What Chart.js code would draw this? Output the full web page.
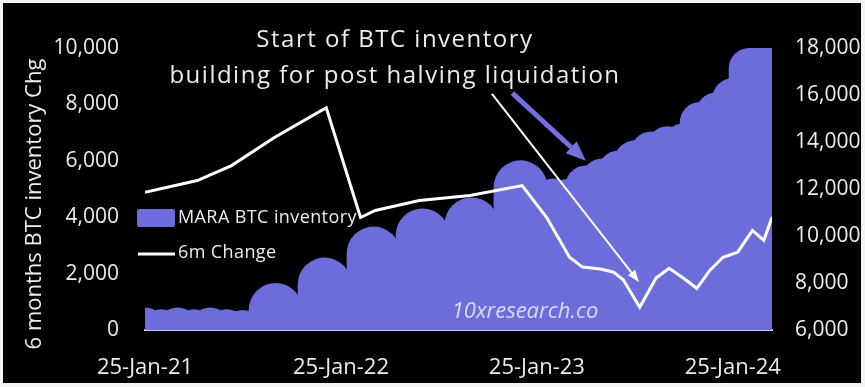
<!DOCTYPE html>
<html>
<head>
<meta charset="utf-8">
<script src="https://cdn.jsdelivr.net/npm/chart.js@4.4.1/dist/chart.umd.min.js"></script>
<style>
  html, body { margin: 0; padding: 0; background: #ffffff; }
  #wrap { width: 865px; height: 387px; }
</style>
</head>
<body>
<div id="wrap"><canvas id="chart" width="865" height="387"></canvas></div>
<script>
// x positions are months counted from 25-Jan-21
const tickMonths = [0, 12, 24, 36];
const tickLabels = ['25-Jan-21', '25-Jan-22', '25-Jan-23', '25-Jan-24'];

// MARA BTC inventory (BTC) - monthly readings
const inventoryMonths = [0, 1, 2, 3, 4, 5, 6, 25, 26, 27, 28, 29, 30, 31, 32, 33, 34, 35, 36, 37, 38];
const inventoryValues = [6960, 6880, 6960, 6880, 6960, 6880, 6850, 12450, 12450, 13000, 13300, 13640, 14070, 14450, 14670, 14800, 15700, 16120, 16720, 18000, 18300];

// MARA BTC inventory (BTC) - quarterly readings
const inventoryQMonths = [8, 11, 14, 17, 20, 23];
const inventoryQValues = [8000, 9080, 10400, 11170, 11640, 13220];

// 6 months change in BTC inventory
const changeMonths = [0, 3.2, 5.3, 7.9, 11.1, 13.2, 14.1, 16.8, 19.9, 23.1, 24.6, 26.0, 26.8, 27.9, 28.7, 29.3, 30.3, 31.3, 32.1, 32.9, 33.8, 34.6, 35.4, 36.3, 37.2, 37.9, 38.4];
const changeValues = [4880, 5300, 5830, 6820, 7880, 3990, 4240, 4590, 4770, 5120, 3990, 2580, 2230, 2160, 2050, 1770, 810, 1840, 2190, 1870, 1480, 2120, 2580, 2760, 3530, 3180, 4000];

const PURPLE = '#6c6cda';
const TEXT = '#ececec';
const FONT = "'Open Sans', sans-serif";

const pts = (xs, ys) => xs.map((x, i) => ({ x: x, y: ys[i] }));

function drawArrow(ctx, x1, y1, x2, y2, color, width, headLen, headW) {
  const a = Math.atan2(y2 - y1, x2 - x1);
  const bx = x2 - headLen * Math.cos(a), by = y2 - headLen * Math.sin(a);
  ctx.save();
  ctx.strokeStyle = color; ctx.lineWidth = width; ctx.lineCap = 'butt';
  ctx.beginPath(); ctx.moveTo(x1, y1); ctx.lineTo(bx, by); ctx.stroke();
  ctx.fillStyle = color;
  ctx.beginPath();
  ctx.moveTo(x2, y2);
  ctx.lineTo(bx + headW / 2 * Math.sin(a), by - headW / 2 * Math.cos(a));
  ctx.lineTo(bx - headW / 2 * Math.sin(a), by + headW / 2 * Math.cos(a));
  ctx.closePath(); ctx.fill();
  ctx.restore();
}

// black panel with a thin light frame
const panel = {
  id: 'panel',
  beforeDraw(chart) {
    const ctx = chart.ctx;
    ctx.save();
    ctx.fillStyle = '#f4f4f4';
    ctx.fillRect(0, 0, chart.width, chart.height);
    ctx.fillStyle = '#000000';
    ctx.fillRect(3, 3, chart.width - 7, chart.height - 7);
    ctx.restore();
  }
};

// headline, axis title, legend, arrows and watermark
const overlay = {
  id: 'overlay',
  afterDatasetsDraw(chart) {
    const ctx = chart.ctx;
    const xs = chart.scales.x, yL = chart.scales.yL, yR = chart.scales.yR;
    ctx.save();

    // watermark
    ctx.font = "italic 22px " + FONT;
    ctx.fillStyle = 'rgba(228,228,252,0.9)';
    ctx.textAlign = 'center'; ctx.textBaseline = 'middle';
    ctx.fillText('10xresearch.co', 525, 312);

    // arrows
    drawArrow(ctx, xs.getPixelForValue(22.5), yR.getPixelForValue(16080),
      xs.getPixelForValue(27.0), yR.getPixelForValue(13200), '#7070e0', 5, 20, 16);
    drawArrow(ctx, xs.getPixelForValue(21.25), yL.getPixelForValue(8375),
      xs.getPixelForValue(30.25), yL.getPixelForValue(1700), '#ffffff', 2, 12, 9);

    // headline
    ctx.fillStyle = TEXT;
    ctx.font = "24px " + FONT;
    ctx.letterSpacing = '1.5px';
    ctx.textAlign = 'center'; ctx.textBaseline = 'middle';
    ctx.fillText('Start of BTC inventory', 395, 40);
    ctx.fillText('building for post halving liquidation', 395, 76);
    ctx.letterSpacing = '0px';

    // left axis title
    ctx.save();
    ctx.translate(35, 204);
    ctx.rotate(-Math.PI / 2);
    ctx.font = "22px " + FONT;
    ctx.fillText('6 months BTC inventory Chg', 0, 0);
    ctx.restore();

    // legend
    const inv = chart.data.datasets[1], chg = chart.data.datasets[0];
    ctx.fillStyle = PURPLE;
    ctx.beginPath();
    ctx.roundRect(137, 209, 38, 18, 2);
    ctx.fill();
    ctx.strokeStyle = '#ffffff'; ctx.lineWidth = 3;
    ctx.beginPath(); ctx.moveTo(138, 254); ctx.lineTo(175, 254); ctx.stroke();
    ctx.fillStyle = TEXT;
    ctx.font = "18px " + FONT;
    ctx.letterSpacing = '0.4px';
    ctx.textAlign = 'left'; ctx.textBaseline = 'middle';
    ctx.fillText(inv.label, 178, 218);
    ctx.fillText(chg.label, 178, 253);
    ctx.letterSpacing = '0px';

    ctx.restore();
  }
};

new Chart(document.getElementById('chart'), {
  data: {
    datasets: [
      {
        type: 'line',
        label: '6m Change',
        data: pts(changeMonths, changeValues),
        yAxisID: 'yL',
        borderColor: '#ffffff',
        borderWidth: 3,
        pointRadius: 0,
        tension: 0,
        order: 0
      },
      {
        type: 'bar',
        label: 'MARA BTC inventory',
        data: pts(inventoryMonths, inventoryValues),
        yAxisID: 'yR',
        backgroundColor: PURPLE,
        borderWidth: 0,
        borderRadius: 60,
        borderSkipped: 'start',
        barPercentage: 2.5,
        categoryPercentage: 1,
        grouped: false,
        order: 1
      },
      {
        type: 'bar',
        label: 'MARA BTC inventory (quarterly)',
        data: pts(inventoryQMonths, inventoryQValues),
        yAxisID: 'yR',
        backgroundColor: PURPLE,
        borderWidth: 0,
        borderRadius: 60,
        borderSkipped: 'start',
        barPercentage: 3.3,
        categoryPercentage: 1,
        grouped: false,
        order: 2
      }
    ]
  },
  plugins: [panel, overlay],
  options: {
    responsive: false,
    animation: false,
    devicePixelRatio: 1,
    layout: { padding: { top: 48, left: 0, right: 0, bottom: 0 } },
    plugins: { legend: { display: false }, tooltip: { enabled: false } },
    scales: {
      x: {
        type: 'linear',
        offset: false,
        min: 0,
        max: 38.4,
        grid: { display: false, drawTicks: false, offset: false },
        border: { display: true, color: '#c6c6ee', width: 2 },
        afterBuildTicks(scale) { scale.ticks = tickMonths.map(v => ({ value: v })); },
        afterFit(scale) { scale.height = 57; },
        ticks: {
          color: TEXT,
          font: { family: FONT, size: 22 },
          padding: 25,
          maxRotation: 0,
          autoSkip: false,
          callback(v) { const i = tickMonths.indexOf(v); return i >= 0 ? tickLabels[i] : ''; }
        }
      },
      yL: {
        type: 'linear',
        position: 'left',
        min: 0,
        max: 10000,
        grid: { display: false, drawTicks: false },
        border: { display: false },
        afterFit(scale) { scale.width = 145; },
        ticks: {
          stepSize: 2000,
          color: TEXT,
          font: { family: FONT, size: 21 },
          padding: 26,
          callback(v) { return v.toLocaleString('en-US'); }
        }
      },
      yR: {
        type: 'linear',
        position: 'right',
        min: 6000,
        max: 18000,
        grid: { display: false, drawTicks: false },
        border: { display: false },
        afterFit(scale) { scale.width = 93; },
        ticks: {
          stepSize: 2000,
          color: TEXT,
          font: { family: FONT, size: 21 },
          padding: 23,
          callback(v) { return v.toLocaleString('en-US'); }
        }
      }
    }
  }
});
</script>
</body>
</html>
